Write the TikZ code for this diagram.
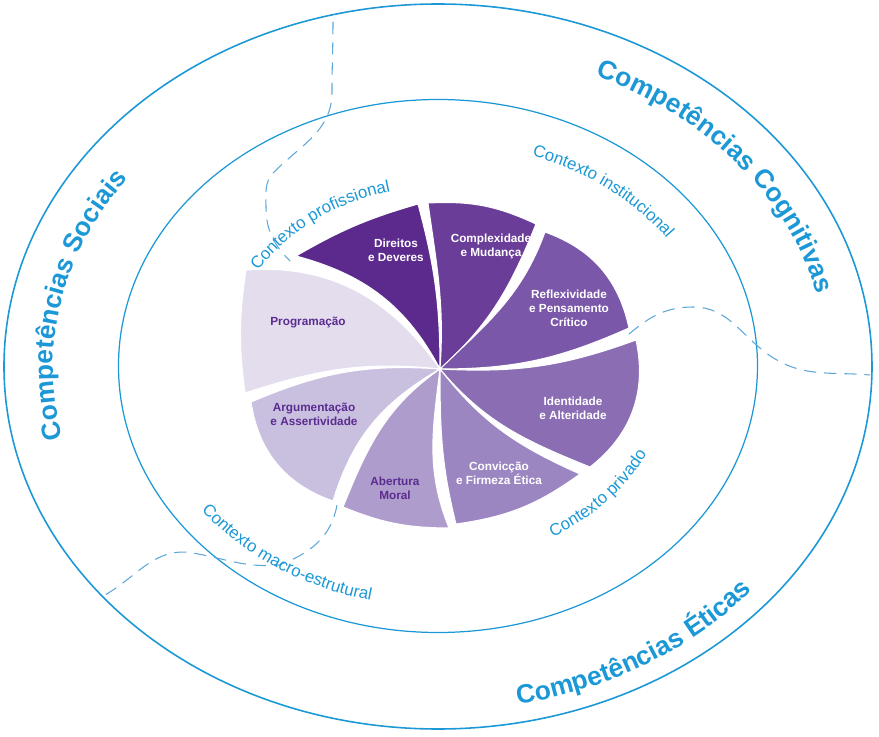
\documentclass[tikz,border=0pt]{standalone}
\usepackage{fontspec}
\setmainfont{Liberation Sans}
\usetikzlibrary{decorations.text}
\definecolor{ringblue}{HTML}{1B98D5}
\definecolor{dashblue}{HTML}{5EA7DA}
\definecolor{txtpurple}{HTML}{5B2C8F}
\definecolor{cdireitos}{HTML}{5B2A8C}
\definecolor{ccomplex}{HTML}{6A3D99}
\definecolor{creflex}{HTML}{7A57A8}
\definecolor{cidentid}{HTML}{8A6DB3}
\definecolor{cconvic}{HTML}{9B86C2}
\definecolor{cabert}{HTML}{AE9DCC}
\definecolor{cargum}{HTML}{C9BFDF}
\definecolor{cprogram}{HTML}{E3DDEE}
\begin{document}
\begin{tikzpicture}[x=0.02cm, y=0.02cm,
    ring/.style={draw=ringblue, line width=0.7pt},
    border/.style={draw=dashblue, dash pattern=on 7pt off 4.5pt, line width=0.6pt},
    piece/.style={draw=white, line width=0.6pt, line join=round},
    dark/.style={text=white, font=\bfseries\fontsize{6.7}{8}\selectfont, align=center},
    light/.style={dark, text=txtpurple},
    compet/.style={decorate, decoration={text along path, text align=center,
        text color=ringblue, text={|\bfseries\fontsize{15}{18}\selectfont|#1}}},
    ctx/.style={decorate, decoration={text along path, text align=center,
        text color=ringblue, text={|\fontsize{9.6}{12}\selectfont|#1}}}]
  \useasboundingbox (-439,-370) rectangle (440,367);
  \draw[ring, line width=0.9pt] (-1,0.5) ellipse [x radius=434, y radius=362.5];
  \draw[ring] (-1,1) ellipse [x radius=319.5, y radius=266.5];
  \draw[border] (-106,345) to[out=-90,in=90] (-107,275) to[out=-90,in=45] (-165,195)
    to[out=-135,in=90] (-173,160) to[out=-90,in=135] (-149,106);
  \draw[border] (190,33) to[out=40,in=180] (254,60) to[out=0,in=145] (330,12)
    to[out=-35,in=175] (431,-8);
  \draw[border] (-102,-138) to[out=-100,in=20] (-160,-198) to[out=-175,in=-10] (-246,-186)
    to[out=170,in=30] (-334,-228);
  \coordinate (o) at (1,-2);
  \fill[piece, fill=cdireitos] (o) to[out=118,in=-15] (-143,111) to[bend left=7] (-21,163)
    to[out=-75,in=90] (o) -- cycle;
  \fill[piece, fill=ccomplex] (o) to[out=86,in=-82] (-11,164) to[bend left=14] (97,143)
    to[out=-112,in=42] (o) -- cycle;
  \fill[piece, fill=creflex] (o) to[out=44,in=-110] (106,135) to[bend left=29] (190,39)
    to[out=-156,in=0] (o) -- cycle;
  \fill[piece, fill=cidentid] (o) to[out=-3,in=-160] (197,27) to[bend left=32] (151,-100)
    to[out=158,in=-50] (o) -- cycle;
  \fill[piece, fill=cconvic] (o) to[out=-52,in=156] (141,-107) to[bend left=14] (17,-157)
    to[out=104,in=-90] (o) -- cycle;
  \fill[piece, fill=cabert] (o) to[out=-97,in=112] (10,-161) to[bend left=11] (-96,-140)
    to[out=68,in=-145] (o) -- cycle;
  \fill[piece, fill=cargum] (o) to[out=-150,in=73] (-106,-134) to[bend left=31] (-188,-35)
    to[out=23,in=176] (o) -- cycle;
  \fill[piece, fill=cprogram] (o) to[out=174,in=18] (-194,-26) to[bend left=8] (-193,97)
    to[out=4,in=125] (o) -- cycle;
  \node[dark] (direitos) at (-43,117) {Direitos\\e Deveres};
  \node[dark] (complexidade) at (52,121) {Complexidade\\e Mudança};
  \node[dark] (reflexividade) at (130,59) {Reflexividade\\e Pensamento\\Crítico};
  \node[dark] (identidade) at (134,-41) {Identidade\\e Alteridade};
  \node[dark] (conviccao) at (60,-106) {Convicção\\e Firmeza Ética};
  \node[light] (abertura) at (-44,-121) {Abertura\\Moral};
  \node[light] (argumentacao) at (-125,-47) {Argumentação\\e Assertividade};
  \node[light] (programacao) at (-131,44) {Programação};
  \path[compet={Competências Sociais}] (214:386 and 318)
    arc[start angle=214, end angle=124, x radius=386, y radius=318];
  \path[compet={Competências Cognitivas}] (83:388 and 318)
    arc[start angle=83, end angle=-7, x radius=388, y radius=318];
  \path[compet={Competências Éticas}] (257:412 and 344)
    arc[start angle=257, end angle=347, x radius=412, y radius=344];
  \path[ctx={Contexto profissional}] (158:214 and 180)
    arc[start angle=158, end angle=94, x radius=214, y radius=180];
  \path[ctx={Contexto institucional}] (85:278 and 224)
    arc[start angle=85, end angle=18, x radius=278, y radius=224];
  \path[ctx={Contexto privado}] (-75:232 and 195)
    arc[start angle=-75, end angle=-10, x radius=232, y radius=195];
  \path[ctx={Contexto macro-estrutural}] (200:296 and 240)
    arc[start angle=200, end angle=271, x radius=296, y radius=240];
\end{tikzpicture}
\end{document}
